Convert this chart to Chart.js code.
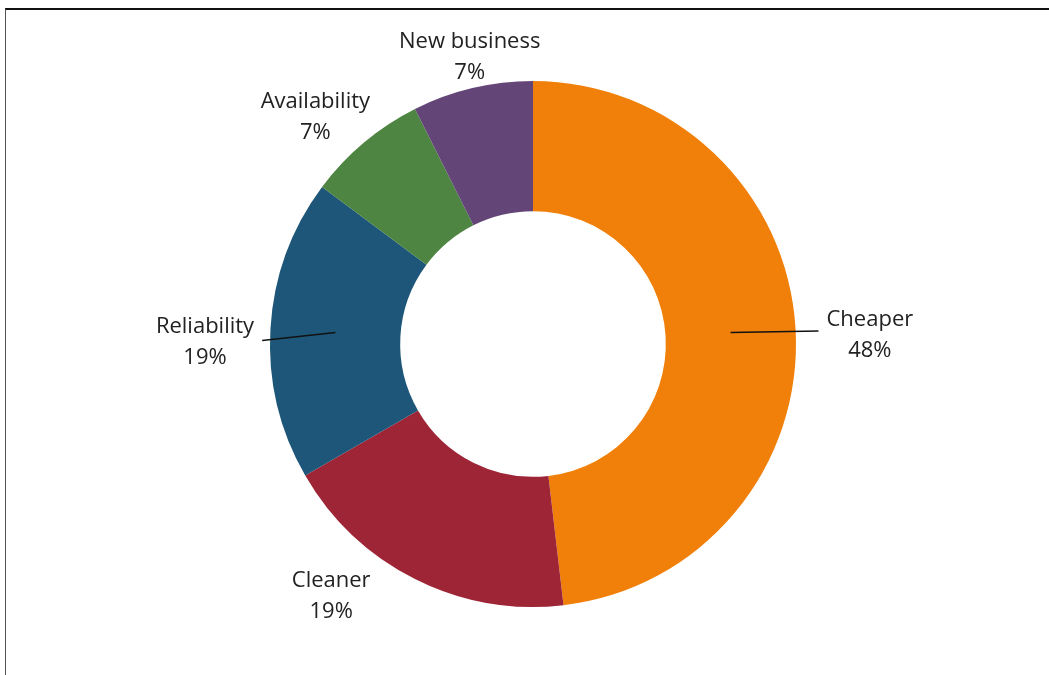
<!DOCTYPE html>
<html lang="en">
<head>
    <meta charset="UTF-8">
    <title>Reasons</title>
    <script src="https://cdn.jsdelivr.net/npm/chart.js"></script>
    <style>
        html, body { margin: 0; padding: 0; background: #fff; }
        #wrap { position: relative; width: 1049px; height: 675px; overflow: hidden; }
        #frame { position: absolute; left: 5px; top: 8px; right: -4px; bottom: -4px;
                 border-top: 2.5px solid #111; border-left: 1.5px solid #555; }
        canvas { position: absolute; left: 0; top: 0; }
    </style>
</head>
<body>
<div id="wrap">
    <div id="frame"></div>
    <canvas id="chart" width="1049" height="675"></canvas>
</div>
<script>
    // number of responses per reason; labels show the rounded share
    const labels = ["Cheaper", "Cleaner", "Reliability", "Availability", "New business"];
    const values = [13, 5, 5, 2, 2];
    const colors = ["#F0800A", "#9E2536", "#1D5679", "#4E8542", "#634677"];

    // label placement per slice: extra distance beyond the ring, angle shift (deg), leader line
    const labelPos = [
        { dist: 74, shift: 1.8, leader: true },
        { dist: 60, shift: 12, leader: false },
        { dist: 65, shift: -2.9, leader: true },
        { dist: 52, shift: -3.7, leader: false },
        { dist: 31, shift: 0.9, leader: false }
    ];

    const font = "22px 'Open Sans', Lato, sans-serif";

    const sliceLabels = {
        id: "sliceLabels",
        afterDatasetsDraw(chart) {
            const ctx = chart.ctx;
            const arcs = chart.getDatasetMeta(0).data;
            const total = values.reduce((s, v) => s + v, 0);
            ctx.save();
            ctx.font = font;
            ctx.fillStyle = "#222";
            ctx.textAlign = "center";
            ctx.textBaseline = "middle";
            arcs.forEach((arc, i) => {
                const p = arc.getProps(["x", "y", "startAngle", "endAngle", "outerRadius", "innerRadius"], true);
                const mid = (p.startAngle + p.endAngle) / 2;
                const a = mid + labelPos[i].shift * Math.PI / 180;
                const r = p.outerRadius + labelPos[i].dist;
                const lx = p.x + Math.cos(a) * r;
                const ly = p.y + Math.sin(a) * r;
                const pct = Math.round(values[i] / total * 100) + "%";
                ctx.fillText(labels[i], lx, ly - 15);
                ctx.fillText(pct, lx, ly + 16);

                if (labelPos[i].leader) {
                    // leader runs from the middle of the ring to the label's near edge
                    const rm = (p.outerRadius + p.innerRadius) / 2;
                    const sx = p.x + Math.cos(mid) * rm;
                    const sy = p.y + Math.sin(mid) * rm;
                    const w = ctx.measureText(labels[i]).width;
                    const side = Math.cos(a) > 0 ? -1 : 1;
                    const ex = lx + side * (w / 2 + 8);
                    const ey = side > 0 ? ly - 1 : ly - 4;
                    ctx.beginPath();
                    ctx.moveTo(sx, sy);
                    ctx.lineTo(ex, ey);
                    ctx.strokeStyle = "#111";
                    ctx.lineWidth = 1.3;
                    ctx.stroke();
                }
            });
            ctx.restore();
        }
    };

    new Chart(document.getElementById("chart"), {
        type: "doughnut",
        data: {
            labels: labels,
            datasets: [{
                data: values,
                backgroundColor: colors,
                borderWidth: 0
            }]
        },
        options: {
            responsive: false,
            animation: false,
            cutout: "50.5%",
            layout: { padding: { left: 270, right: 253, top: 81, bottom: 68 } },
            plugins: {
                legend: { display: false },
                tooltip: { enabled: false }
            }
        },
        plugins: [sliceLabels]
    });
</script>
</body>
</html>
